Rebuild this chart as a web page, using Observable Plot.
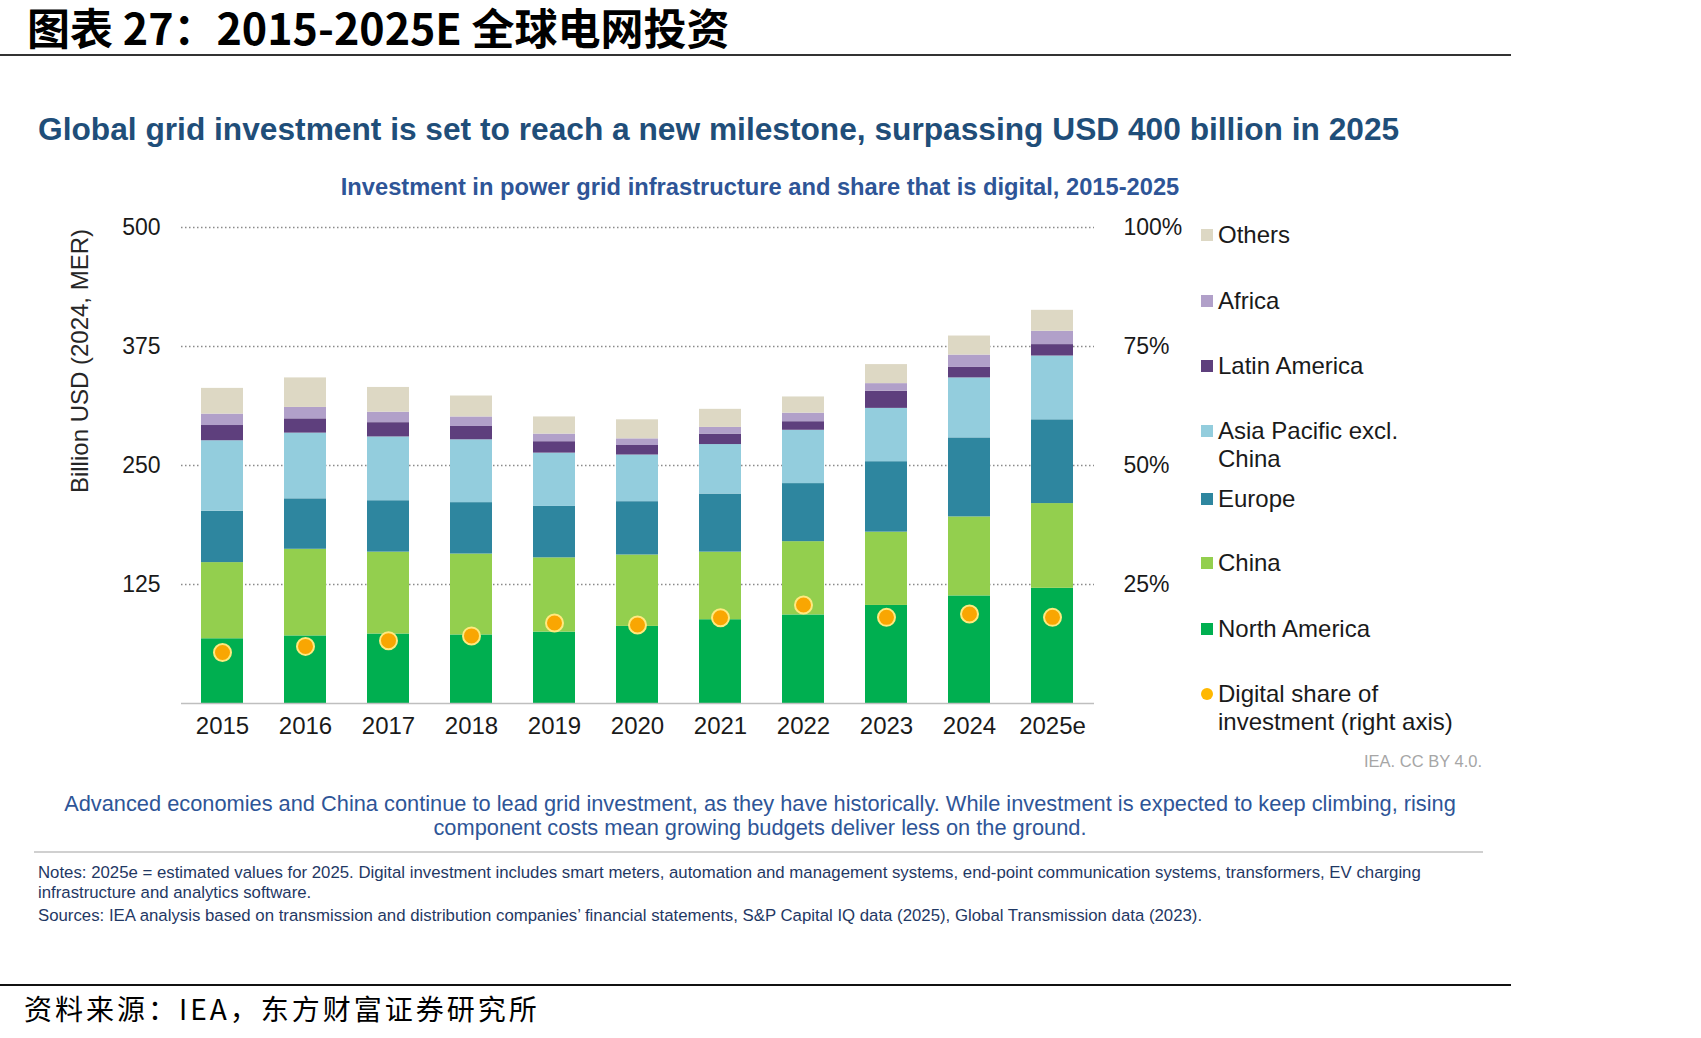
<!DOCTYPE html>
<html>
<head>
<meta charset="utf-8">
<script src="https://cdn.jsdelivr.net/npm/d3@7"></script>
<script src="https://cdn.jsdelivr.net/npm/@observablehq/plot@0.6"></script>
<style>
  html, body { margin: 0; padding: 0; background: #fff; }
  #page { position: relative; width: 1701px; height: 1038px; overflow: hidden; font-family: "Liberation Sans", Arial, sans-serif; }
  .abs { position: absolute; white-space: nowrap; }
  #header { left: 27px; top: 3px; font-family: "Noto Sans CJK SC", sans-serif; font-weight: 700; font-size: 43px; line-height: 46px; color: #000; }
  #rule-top { left: 0; top: 54px; width: 1511px; height: 2px; background: #333; }
  #title { left: 38px; top: 111px; font-weight: 700; font-size: 31.7px; line-height: 36px; color: #1F4E79; }
  #subtitle { left: 0; width: 1520px; text-align: center; top: 173px; font-weight: 700; font-size: 23.7px; line-height: 28px; color: #2E5597; }
  #ylabel { left: 80px; top: 361px; font-size: 24px; color: #262626; transform: translate(-50%, -50%) rotate(-90deg); }
  #chart { left: 0; top: 200px; }
  .legend-item { position: absolute; left: 1201px; font-size: 24px; line-height: 28px; color: #1a1a1a; }
  .legend-item .sw { position: absolute; left: 0; width: 12px; height: 12px; }
  .legend-item .tx { position: absolute; left: 17px; white-space: nowrap; }
  #credit { right: 219px; top: 752px; font-size: 16.5px; color: #A6A6A6; }
  #caption { left: 0; width: 1520px; text-align: center; top: 792px; font-size: 21.8px; line-height: 24px; color: #2E5597; white-space: normal; }
  #rule-mid { left: 34px; top: 851px; width: 1449px; height: 2px; background: #D0D0D0; }
  #notes { left: 38px; top: 863px; font-size: 16.8px; line-height: 20px; color: #1F3864; }
  #sources { left: 38px; top: 906px; font-size: 16.8px; line-height: 20px; color: #1F3864; }
  #rule-bottom { left: 0; top: 984px; width: 1511px; height: 2px; background: #111; }
  #footer { left: 24px; top: 991px; font-family: "Noto Sans CJK SC", sans-serif; font-size: 28px; letter-spacing: 3px; line-height: 34px; color: #000; }
</style>
</head>
<body>
<div id="page">
  <div class="abs" id="header">图表 27：2015-2025E 全球电网投资</div>
  <div class="abs" id="rule-top"></div>
  <div class="abs" id="title">Global grid investment is set to reach a new milestone, surpassing USD 400 billion in 2025</div>
  <div class="abs" id="subtitle">Investment in power grid infrastructure and share that is digital, 2015-2025</div>
  <div class="abs" id="ylabel">Billion USD (2024, MER)</div>
  <div class="abs" id="chart"></div>
  <div id="legend"></div>
  <div class="abs" id="credit">IEA. CC BY 4.0.</div>
  <div class="abs" id="caption">Advanced economies and China continue to lead grid investment, as they have historically. While investment is expected to keep climbing, rising<br>component costs mean growing budgets deliver less on the ground.</div>
  <div class="abs" id="rule-mid"></div>
  <div class="abs" id="notes">Notes: 2025e = estimated values for 2025. Digital investment includes smart meters, automation and management systems, end-point communication systems, transformers, EV charging<br>infrastructure and analytics software.</div>
  <div class="abs" id="sources">Sources: IEA analysis based on transmission and distribution companies’ financial statements, S&amp;P Capital IQ data (2025), Global Transmission data (2023).</div>
  <div class="abs" id="rule-bottom"></div>
  <div class="abs" id="footer">资料来源：IEA，东方财富证券研究所</div>
</div>
<script>
// Grid investment by region, billion USD (2024, MER)
const years = ["2015", "2016", "2017", "2018", "2019", "2020", "2021", "2022", "2023", "2024", "2025e"];
const northAmerica = [68, 71, 73, 72, 75, 81, 88, 93, 103, 113, 121];
const china        = [80, 91, 86, 85, 78, 75, 71, 77, 77, 83, 89];
const europe       = [54, 53, 54, 54, 54, 56, 61, 61, 74, 83, 88];
const asiaPacific  = [74, 69, 67, 66, 56, 49, 52, 56, 56, 63, 67];
const latinAmerica = [16, 15, 15, 14, 12, 10, 11, 9, 18, 11, 12];
const africa       = [12, 12, 11, 10, 8, 7, 7, 9, 8, 13, 14];
const others       = [27, 31, 26, 22, 18, 20, 19, 17, 20, 20, 22];
// Digital share of investment, percent (right axis)
const digitalShare = [10.7, 12.0, 13.2, 14.2, 16.9, 16.5, 18.0, 20.7, 18.1, 18.8, 18.1];

const leftTicks = [125, 250, 375, 500];
const rightTicks = [25, 50, 75, 100];

const regions = ["North America", "China", "Europe", "Asia Pacific excl. China", "Latin America", "Africa", "Others"];
const regionSeries = [northAmerica, china, europe, asiaPacific, latinAmerica, africa, others];
const regionColors = ["#00AF50", "#93CF4E", "#2E869F", "#93CDDD", "#5E3F7D", "#B1A0C9", "#DDD8C4"];

// Long-format table for stacking, bottom to top
const stacked = regions.flatMap((region, i) =>
  years.map((year, j) => ({year, region, value: regionSeries[i][j]}))
);
// Right axis: 100% sits at the top of the 0–500 left axis
const shareScale = 500 / 100;
const digital = years.map((year, j) => ({year, share: digitalShare[j]}));

const chart = Plot.plot({
  width: 1200,
  height: 560,
  marginLeft: 181,
  marginRight: 106,
  marginTop: 27,
  marginBottom: 57,
  style: {fontFamily: "'Liberation Sans', Arial, sans-serif", fontSize: "23px", color: "#1a1a1a", background: "transparent"},
  x: {type: "band", domain: years, paddingInner: 0.49, paddingOuter: 0.245, label: null},
  y: {domain: [0, 500], label: null},
  color: {domain: regions, range: regionColors},
  marks: [
    Plot.gridY(leftTicks, {stroke: "#8a8a8a", strokeOpacity: 1, strokeWidth: 1.4, strokeDasharray: "1.5,2.5"}),
    Plot.barY(stacked, {x: "year", y: "value", fill: "region"}),
    Plot.ruleY([0], {stroke: "#BFBFBF", strokeWidth: 1.5}),
    Plot.dot(digital, {x: "year", y: d => d.share * shareScale, r: 8.5, fill: "#F9A602", stroke: "#FFE97F", strokeWidth: 2}),
    Plot.axisX({tickSize: 0, tickPadding: 13, fontSize: 24, label: null}),
    Plot.axisY({ticks: leftTicks, tickSize: 0, tickPadding: 21, label: null}),
    Plot.axisY({anchor: "right", ticks: rightTicks.map(p => p * shareScale), tickFormat: v => `${v / shareScale}%`, tickSize: 0, tickPadding: 29, label: null})
  ]
});
document.getElementById("chart").appendChild(chart);

// Legend, top to bottom
const legendItems = [
  {label: "Others", color: regionColors[6], y: 235, shape: "square"},
  {label: "Africa", color: regionColors[5], y: 301, shape: "square"},
  {label: "Latin America", color: regionColors[4], y: 366, shape: "square"},
  {label: "Asia Pacific excl.<br>China", color: regionColors[3], y: 431, shape: "square"},
  {label: "Europe", color: regionColors[2], y: 499, shape: "square"},
  {label: "China", color: regionColors[1], y: 563, shape: "square"},
  {label: "North America", color: regionColors[0], y: 629, shape: "square"},
  {label: "Digital share of<br>investment (right axis)", color: "#FFB800", y: 694, shape: "circle"}
];
const legend = document.getElementById("legend");
for (const item of legendItems) {
  const el = document.createElement("div");
  el.className = "legend-item";
  el.style.top = (item.y - 14) + "px";
  el.innerHTML = `<span class="sw" style="top:8px;background:${item.color};${item.shape === "circle" ? "border-radius:50%;" : ""}"></span><span class="tx">${item.label}</span>`;
  legend.appendChild(el);
}
</script>
</body>
</html>
